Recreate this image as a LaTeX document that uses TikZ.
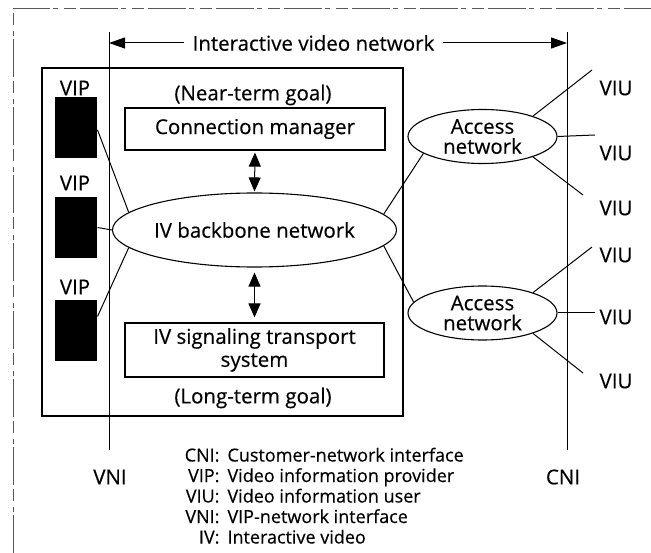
\documentclass[tikz,border=0pt]{standalone}
\usepackage{fontspec}
\setmainfont{Open Sans}[FakeBold=0.35]
\usetikzlibrary{shapes.geometric,arrows.meta,calc}
\begin{document}
\begin{tikzpicture}[x=1pt,y=-1pt,
  font=\fontsize{20.5}{23}\selectfont,
  line width=1pt,
  txt/.style={inner sep=0pt},
  keytxt/.style={inner sep=0pt,font=\fontsize{18}{20.5}\selectfont},
  box/.style={draw,rectangle,inner sep=0pt,line width=1.2pt},
  vipbox/.style={rectangle,fill=black,minimum width=42pt,minimum height=61pt,inner sep=0pt},
  netell/.style={draw,ellipse,inner sep=0pt,line width=1.1pt},
  tip/.style={-{Triangle[length=16pt,width=11pt]}},
  dbl/.style={{Triangle[length=14pt,width=12pt]}-{Triangle[length=14pt,width=12pt]}},
  frame/.style={line width=0.6pt,gray!70!black,dash pattern=on 38pt off 3pt on 5pt off 6pt on 12pt off 4pt}
]
\useasboundingbox (0,0) rectangle (651,553);

% outer page frame
\coordinate (fTL) at (13,8);
\coordinate (fTR) at (651,8);
\coordinate (fBL) at (13,553);
\draw[frame] (fBL) -- (fTL) -- (fTR);

% interface lines VNI and CNI
\coordinate (vniTop) at (109,32);
\coordinate (vniBot) at (109,450);
\coordinate (cniTop) at (567,32);
\coordinate (cniBot) at (567,450);
\draw (vniTop) -- (vniBot);
\draw (cniTop) -- (cniBot);
\node[txt] (vniLab) at (110,477) {VNI};
\node[txt] (cniLab) at (563,477) {CNI};

% span of the interactive video network
\node[txt] (title) at (313.5,43) {Interactive video network};
\coordinate (arrL) at (109,43);
\coordinate (arrR) at (567,43);
\draw[tip] ([xshift=-8pt]title.west) -- (arrL);
\draw[tip] ([xshift=8pt]title.east) -- (arrR);

% network box
\node[box,minimum width=361pt,minimum height=348pt] (netbox) at (222.5,242) {};

% video information providers
\node[txt] (vipLa) at (75,88) {VIP};
\node[txt] (vipLb) at (75,183) {VIP};
\node[txt] (vipLc) at (75,287) {VIP};
\node[vipbox] (vip1) at (76,128) {};
\node[vipbox] (vip2) at (76,227.5) {};
\node[vipbox] (vip3) at (76,331) {};

% control and signalling
\node[txt] (near) at (253,95) {(Near-term goal)};
\node[box,minimum width=260pt,minimum height=42pt] (cm) at (255,129) {Connection manager};
\node[netell,minimum width=261pt,minimum height=74pt] (bb) at (254.5,230) {IV backbone network};
\node[box,minimum width=259pt,minimum height=54pt,align=center] (sig) at (254.5,350)
  {IV signaling transport\\system};
\node[txt] (long) at (253,398) {(Long-term goal)};

\draw[dbl,shorten <=2pt,shorten >=1pt] (cm.south) -- (bb.north);
\draw[dbl,shorten <=5pt,shorten >=5pt] (bb.south) -- (sig.north);

\draw (vip1.-5) -- (bb.172);
\draw (vip2.east) -- (bb.west);
\draw (vip3.34) -- (bb.-172);

% access networks
\node[netell,minimum width=149pt,minimum height=54pt,align=center] (acc1) at (482.5,136.5)
  {Access\\[-3pt]network};
\node[netell,minimum width=149pt,minimum height=54pt,align=center] (acc2) at (482.5,313)
  {Access\\[-3pt]network};
\draw (bb.7) -- (acc1.196);
\draw (bb.-7) -- (acc2.171);

% video information users
\coordinate (u1) at (592,70);
\coordinate (u2) at (595,135);
\coordinate (u3) at (583,195);
\coordinate (u4) at (592,247);
\coordinate (u5) at (595,313);
\coordinate (u6) at (583,373);
\draw (acc1.22) -- (u1);
\draw (acc1.east) -- (u2);
\draw (acc1.-22) -- (u3);
\draw (acc2.22) -- (u4);
\draw (acc2.east) -- (u5);
\draw (acc2.-22) -- (u6);
\node[txt] (viu1) at (616,88) {VIU};
\node[txt] (viu2) at (616,153) {VIU};
\node[txt] (viu3) at (616,208) {VIU};
\node[txt] (viu4) at (616,255) {VIU};
\node[txt] (viu5) at (616,317) {VIU};
\node[txt] (viu6) at (616,381) {VIU};

% abbreviations
\node[keytxt,anchor=base east] (kA) at (220,461.5) {CNI:};
\node[keytxt,anchor=base west] (dA) at (227,461.5) {Customer-network interface};
\node[keytxt,anchor=base east] (kB) at (220,482) {VIP:};
\node[keytxt,anchor=base west] (dB) at (227,482) {Video information provider};
\node[keytxt,anchor=base east] (kC) at (220,502.5) {VIU:};
\node[keytxt,anchor=base west] (dC) at (227,502.5) {Video information user};
\node[keytxt,anchor=base east] (kD) at (220,523) {VNI:};
\node[keytxt,anchor=base west] (dD) at (227,523) {VIP-network interface};
\node[keytxt,anchor=base east] (kE) at (220,543.5) {IV:};
\node[keytxt,anchor=base west] (dE) at (227,543.5) {Interactive video};
\end{tikzpicture}
\end{document}
